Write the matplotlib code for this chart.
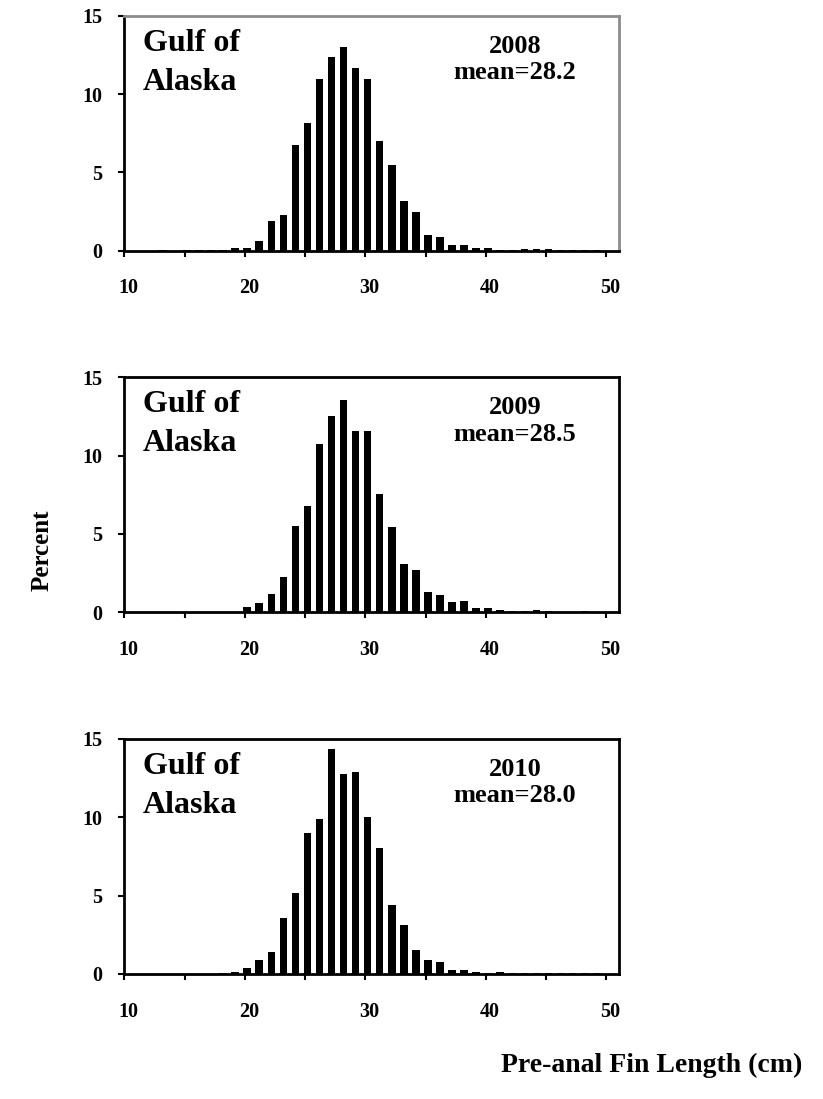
import numpy as np
import matplotlib
matplotlib.use("Agg")
import matplotlib.pyplot as plt
import matplotlib.transforms as mtransforms

plt.rcParams['font.family'] = ['Liberation Serif', 'DejaVu Serif']
plt.rcParams['font.weight'] = 'bold'

# length classes (cm), 10..50
lengths = np.arange(10, 51)

pct_2008 = [0, 0, 0, 0.03, 0, 0.02, 0.05, 0.05, 0.05, 0.17, 0.2,
            0.62, 1.92, 2.3, 6.77, 8.14, 10.94, 12.35, 12.99, 11.69, 10.94,
            7.03, 5.45, 3.18, 2.46, 0.98, 0.9, 0.36, 0.36, 0.17, 0.15,
            0.06, 0.06, 0.1, 0.1, 0.08, 0.05, 0.05, 0.05, 0.05, 0]
pct_2009 = [0, 0, 0, 0, 0, 0, 0, 0, 0.03, 0.03, 0.36,
            0.58, 1.18, 2.26, 5.51, 6.79, 10.73, 12.52, 13.53, 11.58, 11.54,
            7.52, 5.43, 3.1, 2.69, 1.3, 1.11, 0.64, 0.73, 0.3, 0.26,
            0.17, 0.1, 0.1, 0.15, 0.05, 0.03, 0.03, 0.06, 0.03, 0]
pct_2010 = [0, 0, 0, 0, 0, 0, 0, 0, 0.08, 0.1, 0.38,
            0.92, 1.41, 3.59, 5.17, 9.0, 9.87, 14.38, 12.74, 12.88, 10.0,
            8.03, 4.4, 3.14, 1.52, 0.9, 0.73, 0.24, 0.26, 0.15, 0.08,
            0.1, 0.06, 0.06, 0.06, 0.06, 0.06, 0.03, 0.03, 0.03, 0]

years = ["2008", "2009", "2010"]
means = ["28.2", "28.5", "28.0"]
series = [pct_2008, pct_2009, pct_2010]

fig = plt.figure(figsize=(8.23, 10.99), dpi=100)

bottoms = [0.7719, 0.4429, 0.1138]
for i in range(3):
    ax = fig.add_axes([0.151, bottoms[i], 0.601, 0.2138])
    ax.bar(lengths + 0.2, series[i], width=0.62, color="black", linewidth=0)
    ax.set_xlim(10, 51.05)
    ax.set_ylim(0, 15)
    ax.set_xticks([10, 20, 30, 40, 50])
    ax.set_xticks([15, 25, 35, 45], minor=True)
    ax.set_yticks([0, 5, 10, 15])
    ax.tick_params(axis="both", which="both", direction="out", length=4, width=1.5,
                   color="black", labelsize=14.5)
    ax.tick_params(axis="x", which="major", pad=16)
    ax.tick_params(axis="y", pad=12)
    # shift x tick labels slightly right like the original
    offset = mtransforms.ScaledTranslation(4 / 100, 0, fig.dpi_scale_trans)
    for lab in ax.get_xticklabels():
        lab.set_transform(lab.get_transform() + offset)
        lab.set_fontweight("bold")
    for lab in ax.get_yticklabels():
        lab.set_fontweight("bold")
    for side in ["left", "bottom", "top", "right"]:
        ax.spines[side].set_linewidth(2)
        ax.spines[side].set_color("black")
    if i == 0:
        ax.spines["top"].set_color("#8c8c8c")
        ax.spines["right"].set_color("#8c8c8c")
    ax.text(0.038, 0.945, "Gulf of\nAlaska", transform=ax.transAxes, fontsize=23,
            fontweight="bold", va="top", ha="left", linespacing=1.45)
    ax.text(0.79, 0.92, years[i] + "\nmean=" + means[i], transform=ax.transAxes,
            fontsize=19, fontweight="bold", va="top", ha="center", linespacing=1.2)

fig.text(0.051, 0.4995, "Percent", rotation=90, fontsize=18, fontweight="bold",
         ha="center", va="center")
fig.text(0.792, 0.031, "Pre-anal Fin Length (cm)", fontsize=20, fontweight="bold",
         ha="center", va="center")

plt.savefig("out.png", dpi=100)
plt.close()
